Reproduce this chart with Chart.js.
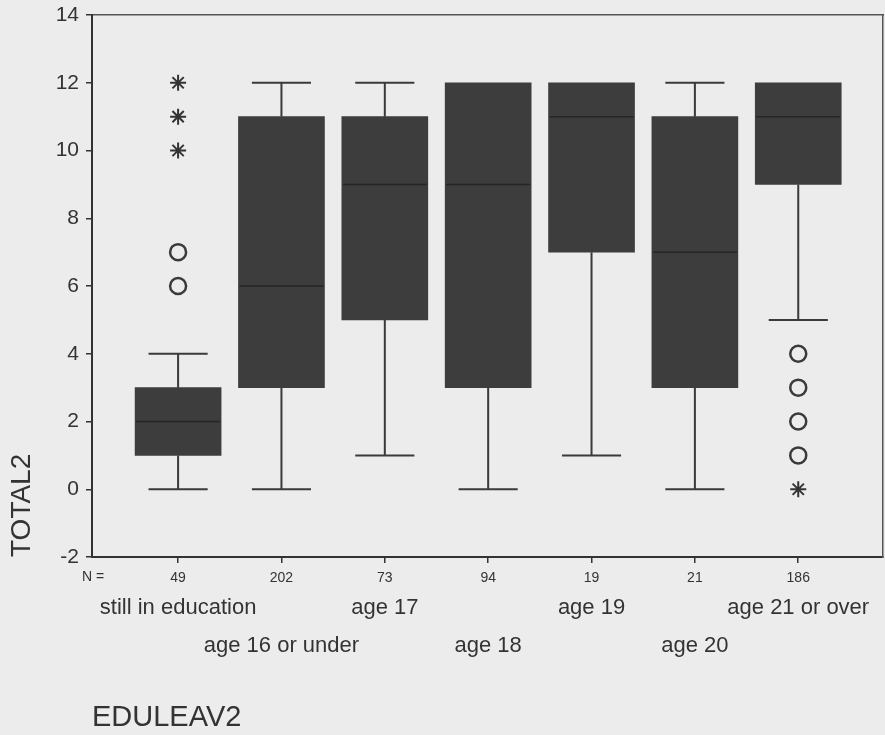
<!DOCTYPE html>
<html>
<head>
<meta charset="utf-8">
<script src="https://cdn.jsdelivr.net/npm/chart.js@4/dist/chart.umd.min.js"></script>
<style>
  html, body { margin: 0; padding: 0; background: #ececec; }
  #wrap { width: 885px; height: 735px; }
</style>
</head>
<body>
<div id="wrap"><canvas id="boxChart"></canvas></div>
<script>
const CATEGORIES = ["still in education", "age 16 or under", "age 17", "age 18", "age 19", "age 20", "age 21 or over"];
const COUNTS = [49, 202, 73, 94, 19, 21, 186];
const MINS = [0, 0, 1, 0, 1, 0, 5];
const Q1S = [1, 3, 5, 3, 7, 3, 9];
const MEDIANS = [2, 6, 9, 9, 11, 7, 11];
const Q3S = [3, 11, 11, 12, 12, 11, 12];
const MAXS = [4, 12, 12, 12, 12, 12, 12];
// outliers as [category index, value]
const OUTLIERS = [[0, 6], [0, 7], [6, 4], [6, 3], [6, 2], [6, 1]];
const EXTREMES = [[0, 10], [0, 11], [0, 12], [6, 0]];
const Y_TICKS = [-2, 0, 2, 4, 6, 8, 10, 12, 14];

const BOX_HALF = 0.417;
const CAP_HALF = 0.286;
const X_MIN = 0.167;
const X_MAX = 7.82;
const INK = "#333333";
const FONT = "Arial, 'Liberation Sans', sans-serif";

function whiskerPoints() {
  const pts = [];
  CATEGORIES.forEach((c, i) => {
    const x = i + 1;
    if (MINS[i] < Q1S[i]) pts.push({ x, y: MINS[i] }, { x, y: Q1S[i] }, { x, y: null });
    if (MAXS[i] > Q3S[i]) pts.push({ x, y: Q3S[i] }, { x, y: MAXS[i] }, { x, y: null });
    if (MINS[i] < Q1S[i]) pts.push({ x: x - CAP_HALF, y: MINS[i] }, { x: x + CAP_HALF, y: MINS[i] }, { x, y: null });
    if (MAXS[i] > Q3S[i]) pts.push({ x: x - CAP_HALF, y: MAXS[i] }, { x: x + CAP_HALF, y: MAXS[i] }, { x, y: null });
  });
  return pts;
}

function medianPoints() {
  const pts = [];
  MEDIANS.forEach((m, i) => {
    pts.push({ x: i + 1 - BOX_HALF + 0.01, y: m }, { x: i + 1 + BOX_HALF - 0.01, y: m }, { x: i + 1, y: null });
  });
  return pts;
}

function noSidePadding(s) {
  s.paddingLeft = 0;
  s.paddingRight = 0;
}

const nLabelPlugin = {
  id: "nLabel",
  afterDraw(chart) {
    const { ctx } = chart;
    const xs = chart.scales.x;
    ctx.save();
    ctx.font = "14px " + FONT;
    ctx.fillStyle = INK;
    ctx.textAlign = "center";
    ctx.textBaseline = "middle";
    ctx.fillText("N =", xs.getPixelForValue(X_MIN + 0.01), xs.top + 20);
    ctx.restore();
  }
};

new Chart(document.getElementById("boxChart"), {
  data: {
    datasets: [
      {
        type: "bar",
        label: "box",
        data: CATEGORIES.map((c, i) => ({ x: i + 1, y: [Q1S[i], Q3S[i]] })),
        backgroundColor: "#3d3d3d",
        borderWidth: 0,
        barThickness: 86,
        order: 3
      },
      {
        type: "line",
        label: "whiskers",
        data: whiskerPoints(),
        borderColor: "#3a3a3a",
        borderWidth: 2,
        pointRadius: 0,
        spanGaps: false,
        order: 2
      },
      {
        type: "line",
        label: "median",
        data: medianPoints(),
        borderColor: "#262626",
        borderWidth: 1.5,
        pointRadius: 0,
        spanGaps: false,
        order: 1
      },
      {
        type: "scatter",
        label: "outliers",
        data: OUTLIERS.map(([i, v]) => ({ x: i + 1, y: v })),
        pointStyle: "circle",
        pointRadius: 8,
        borderColor: "#3a3a3a",
        backgroundColor: "rgba(0,0,0,0)",
        borderWidth: 2.5,
        order: 0
      },
      {
        type: "scatter",
        label: "extremes",
        data: EXTREMES.map(([i, v]) => ({ x: i + 1, y: v })),
        pointStyle: "star",
        pointRadius: 8,
        borderColor: "#333333",
        borderWidth: 2,
        order: 0
      }
    ]
  },
  options: {
    responsive: true,
    maintainAspectRatio: false,
    animation: false,
    events: [],
    layout: { autoPadding: false, padding: { top: 15, right: 2, left: 0, bottom: 0 } },
    plugins: { legend: { display: false }, tooltip: { enabled: false } },
    scales: {
      x: {
        type: "linear",
        position: "bottom",
        offset: false,
        min: X_MIN,
        max: X_MAX,
        afterBuildTicks: (s) => { s.ticks = COUNTS.map((n, i) => ({ value: i + 1 })); },
        ticks: {
          autoSkip: false,
          maxRotation: 0,
          color: INK,
          font: { size: 14, family: FONT },
          padding: 7,
          callback: (v) => String(COUNTS[Math.round(v) - 1])
        },
        grid: { offset: false, drawOnChartArea: false, drawTicks: true, tickLength: 6, color: INK, lineWidth: 1.5 },
        border: { color: INK, width: 2 },
        afterFit: (s) => { s.height = 32; noSidePadding(s); }
      },
      cat: {
        type: "linear",
        position: "bottom",
        offset: false,
        min: X_MIN,
        max: X_MAX,
        afterBuildTicks: (s) => { s.ticks = CATEGORIES.map((c, i) => ({ value: i + 1 })); },
        ticks: {
          autoSkip: false,
          maxRotation: 0,
          color: INK,
          font: { size: 22, family: FONT, lineHeight: 1.74 },
          padding: 0,
          callback: (v) => {
            const i = Math.round(v) - 1;
            return i % 2 === 0 ? [CATEGORIES[i], ""] : ["", CATEGORIES[i]];
          }
        },
        grid: { offset: false, display: false, drawTicks: false },
        border: { display: false },
        title: {
          display: true,
          text: "EDULEAV2",
          align: "start",
          color: INK,
          font: { size: 29, family: FONT },
          padding: { top: 0, bottom: 0 }
        },
        afterFit: (s) => { s.height = 146; noSidePadding(s); }
      },
      xTop: {
        type: "linear",
        position: "top",
        offset: false,
        min: X_MIN,
        max: X_MAX,
        ticks: { display: false },
        grid: { offset: false, display: false, drawTicks: false },
        border: { color: "#555555", width: 1.5 },
        afterFit: (s) => { s.height = 0; noSidePadding(s); }
      },
      y: {
        type: "linear",
        position: "left",
        min: -2,
        max: 14,
        afterBuildTicks: (s) => { s.ticks = Y_TICKS.map((v) => ({ value: v })); },
        ticks: {
          color: INK,
          font: { size: 21, family: FONT },
          padding: 7
        },
        grid: { drawOnChartArea: false, drawTicks: true, tickLength: 6, color: INK, lineWidth: 1.5 },
        border: { color: INK, width: 2 },
        title: {
          display: true,
          text: "TOTAL2",
          align: "start",
          color: INK,
          font: { size: 28, family: FONT },
          padding: { top: 5, bottom: 0 }
        },
        afterFit: (s) => { s.width = 92; s.paddingTop = 0; s.paddingBottom = 0; }
      },
      yRight: {
        type: "linear",
        position: "right",
        min: -2,
        max: 14,
        ticks: { display: false },
        grid: { display: false, drawTicks: false },
        border: { color: "#555555", width: 1.5 },
        afterFit: (s) => { s.width = 0; s.paddingTop = 0; s.paddingBottom = 0; }
      }
    }
  },
  plugins: [nLabelPlugin]
});
</script>
</body>
</html>
